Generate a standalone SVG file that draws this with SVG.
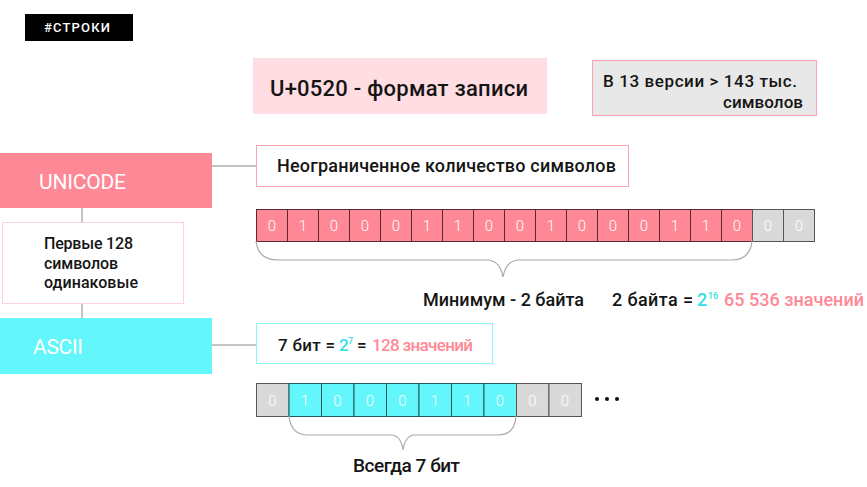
<svg xmlns="http://www.w3.org/2000/svg" width="867" height="487" viewBox="0 0 867 487">
<style>
text{font-family:Roboto,"Liberation Sans",sans-serif;font-weight:500;fill:#151515}
.w{fill:#fff;font-weight:400}
.bit{font-size:15px;font-weight:300;fill:#fff;text-anchor:middle}
.pk{fill:#ff8896;stroke:#5a2a30;stroke-width:1}
.gy{fill:#d9d9d9;stroke:#555;stroke-width:1}
.cy{fill:#63f6fb;stroke:#1f5a5c;stroke-width:1}
.ln{stroke:#888;stroke-width:1;fill:none}
.br{stroke:#aaa;stroke-width:1.2;fill:none}
.pink{fill:#ff8896}
.cyan{fill:#2fdfe6}
</style>
<g id="tag">
<rect x="25" y="14" width="108" height="27" fill="#000"/>
<text x="44" y="32" class="w" font-size="13" style="font-weight:500" textLength="66" lengthAdjust="spacing">#СТРОКИ</text>
</g>
<g id="format">
<rect x="253" y="58" width="294" height="56" fill="#ffdde2"/>
<text x="270" y="96" font-size="22" textLength="258" lengthAdjust="spacing">U+0520 - формат записи</text>
</g>
<g id="version">
<rect x="592.5" y="60.5" width="224" height="55" fill="#e9e8e8" stroke="#f7a6b2" stroke-width="1"/>
<text x="603" y="87" font-size="17" textLength="194" lengthAdjust="spacing">В 13 версии &gt; 143 тыс.</text>
<text x="723" y="108" font-size="17" textLength="80" lengthAdjust="spacing">символов</text>
</g>
<g id="connectors">
<line class="ln" x1="82" y1="208" x2="82" y2="222"/>
<line class="ln" x1="82" y1="304" x2="82" y2="318"/>
<line class="ln" x1="211" y1="166" x2="256" y2="166"/>
<line class="ln" x1="211" y1="345" x2="256" y2="345"/>
</g>
<g id="unicode">
<rect x="0" y="153" width="212" height="55" fill="#ff8896"/>
<text x="39" y="189" class="w" font-size="21" textLength="87" lengthAdjust="spacing">UNICODE</text>
</g>
<g id="same128">
<rect x="2.5" y="222.5" width="181" height="81" fill="#fff" stroke="#fcd3da" stroke-width="1"/>
<text x="44" y="249" font-size="16" textLength="89" lengthAdjust="spacing">Первые 128</text>
<text x="44" y="269" font-size="16" textLength="74" lengthAdjust="spacing">символов</text>
<text x="44" y="288" font-size="16" textLength="94" lengthAdjust="spacing">одинаковые</text>
</g>
<g id="ascii">
<rect x="0" y="318" width="212" height="56" fill="#63f6fb"/>
<text x="33" y="354" class="w" font-size="21" textLength="50" lengthAdjust="spacing">ASCII</text>
</g>
<g id="unlimited">
<rect x="256.5" y="145.5" width="372" height="41" fill="#fff" stroke="#f7a6b2" stroke-width="1"/>
<text x="277" y="172" font-size="18" textLength="339" lengthAdjust="spacing">Неограниченное количество символов</text>
</g>
<g id="bits7">
<rect x="256.5" y="323.5" width="236" height="40" fill="#fff" stroke="#8ef3f6" stroke-width="1"/>
<text x="278" y="351" font-size="17" textLength="57" lengthAdjust="spacing">7 бит =</text>
<text x="339" y="351" font-size="17" class="cyan">2</text>
<text x="348" y="344" font-size="9" class="cyan">7</text>
<text x="357" y="351" font-size="17">=</text>
<text x="372" y="351" font-size="17" class="pink" textLength="101" lengthAdjust="spacing">128 значений</text>
</g>
<g id="unicode-bits">
<rect class="pk" x="256.5" y="209.5" width="31" height="32"/>
<rect class="pk" x="287.5" y="209.5" width="31" height="32"/>
<rect class="pk" x="318.5" y="209.5" width="31" height="32"/>
<rect class="pk" x="349.5" y="209.5" width="31" height="32"/>
<rect class="pk" x="380.5" y="209.5" width="31" height="32"/>
<rect class="pk" x="411.5" y="209.5" width="31" height="32"/>
<rect class="pk" x="442.5" y="209.5" width="31" height="32"/>
<rect class="pk" x="473.5" y="209.5" width="31" height="32"/>
<rect class="pk" x="504.5" y="209.5" width="31" height="32"/>
<rect class="pk" x="535.5" y="209.5" width="31" height="32"/>
<rect class="pk" x="566.5" y="209.5" width="31" height="32"/>
<rect class="pk" x="597.5" y="209.5" width="31" height="32"/>
<rect class="pk" x="628.5" y="209.5" width="31" height="32"/>
<rect class="pk" x="659.5" y="209.5" width="31" height="32"/>
<rect class="pk" x="690.5" y="209.5" width="31" height="32"/>
<rect class="pk" x="721.5" y="209.5" width="31" height="32"/>
<rect class="gy" x="752.5" y="209.5" width="31" height="32"/>
<rect class="gy" x="783.5" y="209.5" width="31" height="32"/>
<text class="bit" x="272" y="231">0</text>
<text class="bit" x="303" y="231">1</text>
<text class="bit" x="334" y="231">0</text>
<text class="bit" x="365" y="231">0</text>
<text class="bit" x="396" y="231">0</text>
<text class="bit" x="427" y="231">1</text>
<text class="bit" x="458" y="231">1</text>
<text class="bit" x="489" y="231">0</text>
<text class="bit" x="520" y="231">0</text>
<text class="bit" x="551" y="231">1</text>
<text class="bit" x="582" y="231">0</text>
<text class="bit" x="613" y="231">0</text>
<text class="bit" x="644" y="231">0</text>
<text class="bit" x="675" y="231">1</text>
<text class="bit" x="706" y="231">1</text>
<text class="bit" x="737" y="231">0</text>
<text class="bit" x="768" y="231">0</text>
<text class="bit" x="799" y="231">0</text>
<path class="br" d="M256,241 Q258,260 278,260 L488,260 Q500,261 503,277 Q506,261 518,260 L732,260 Q750,260 752,241"/>
<text x="423" y="306" font-size="18" textLength="161" lengthAdjust="spacing">Минимум - 2 байта</text>
<text x="612" y="306" font-size="18" textLength="81" lengthAdjust="spacing">2 байта =</text>
<text x="697" y="306" font-size="18" class="cyan">2</text>
<text x="708" y="299" font-size="9" class="cyan">16</text>
<text x="724" y="306" font-size="18" class="pink" textLength="140" lengthAdjust="spacing">65 536 значений</text>
</g>
<g id="ascii-bits">
<rect class="gy" x="256.5" y="383.5" width="32.5" height="33"/>
<rect class="cy" x="289" y="383.5" width="32.5" height="33"/>
<rect class="cy" x="321.5" y="383.5" width="32.5" height="33"/>
<rect class="cy" x="354" y="383.5" width="32.5" height="33"/>
<rect class="cy" x="386.5" y="383.5" width="32.5" height="33"/>
<rect class="cy" x="419" y="383.5" width="32.5" height="33"/>
<rect class="cy" x="451.5" y="383.5" width="32.5" height="33"/>
<rect class="cy" x="484" y="383.5" width="32.5" height="33"/>
<rect class="gy" x="516.5" y="383.5" width="32.5" height="33"/>
<rect class="gy" x="549" y="383.5" width="32.5" height="33"/>
<text class="bit" x="272.5" y="406">0</text>
<text class="bit" x="305" y="406">1</text>
<text class="bit" x="337.5" y="406">0</text>
<text class="bit" x="370" y="406">0</text>
<text class="bit" x="402.5" y="406">0</text>
<text class="bit" x="435" y="406">1</text>
<text class="bit" x="467.5" y="406">1</text>
<text class="bit" x="500" y="406">0</text>
<text class="bit" x="532.5" y="406">0</text>
<text class="bit" x="565" y="406">0</text>
<circle cx="597" cy="399" r="2" fill="#111"/>
<circle cx="607" cy="399" r="2" fill="#111"/>
<circle cx="617" cy="399" r="2" fill="#111"/>
<path class="br" d="M289,416 Q291,435 308,435 L392,435 Q401,436 403,450 Q405,436 414,435 L498,435 Q515,435 516,416"/>
<text x="353" y="472" font-size="19" textLength="107" lengthAdjust="spacing">Всегда 7 бит</text>
</g>
</svg>
